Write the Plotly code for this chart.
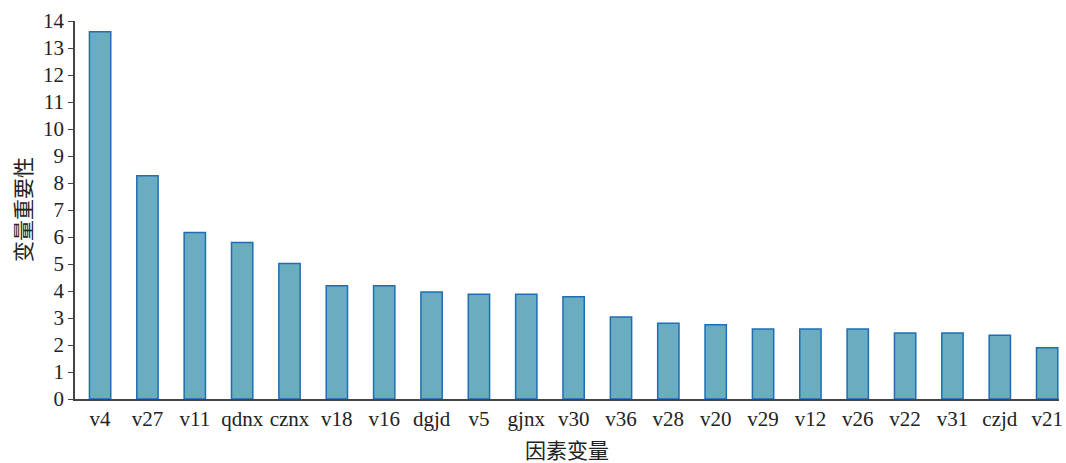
import plotly.graph_objects as go

categories = ["v4", "v27", "v11", "qdnx", "cznx", "v18", "v16", "dgjd", "v5", "gjnx", "v30",
              "v36", "v28", "v20", "v29", "v12", "v26", "v22", "v31", "czjd", "v21"]
importance = [13.60, 8.27, 6.17, 5.80, 5.02, 4.19, 4.19, 3.96, 3.88, 3.88, 3.79,
              3.04, 2.81, 2.75, 2.59, 2.59, 2.59, 2.44, 2.44, 2.36, 1.90]
y_ticks = list(range(0, 15))

font_family = "Liberation Serif, 'Times New Roman', 'Noto Sans CJK SC', serif"
cjk_family = "'Noto Sans CJK SC', sans-serif"

fig = go.Figure(go.Bar(
    x=categories, y=importance,
    width=0.45,
    marker=dict(color="#6aadc1", line=dict(color="#1f6db5", width=1.5)),
))

W, H = 1066, 463
ML, MR, MT, MB = 75, 7, 21, 64

fig.update_layout(
    width=W, height=H,
    margin=dict(l=ML, r=MR, t=MT, b=MB, autoexpand=False),
    paper_bgcolor="white", plot_bgcolor="white",
    font=dict(family=font_family, size=21, color="#222"),
    showlegend=False,
)
fig.update_xaxes(
    range=[-0.53, 20.25], automargin=False,
    showline=True, linecolor="#444", linewidth=1.5,
    showgrid=False, ticks="",
    tickfont=dict(size=21, family=font_family),
)
fig.update_yaxes(
    range=[0, 14], tickvals=y_ticks, automargin=False,
    showline=True, linecolor="#444", linewidth=1.5,
    showgrid=False, ticks="outside", ticklen=5, tickcolor="#444",
    tickfont=dict(size=21, family=font_family),
    zeroline=False,
)
fig.add_annotation(
    text="变量重要性", xref="paper", yref="paper",
    x=-(ML - 22) / (W - ML - MR), y=0.5, textangle=-90,
    showarrow=False, xanchor="center", yanchor="middle",
    font=dict(size=21, family=cjk_family, color="#222"),
)
fig.add_annotation(
    text="因素变量", xref="paper", yref="paper",
    x=0.5, y=-(449 - (H - MB)) / (H - MT - MB),
    showarrow=False, xanchor="center", yanchor="middle",
    font=dict(size=21, family=cjk_family, color="#222"),
)

fig.write_html(
    "out.html",
    config={"displayModeBar": False},
    post_script="document.body.style.margin='0';document.body.style.padding='0';",
)
